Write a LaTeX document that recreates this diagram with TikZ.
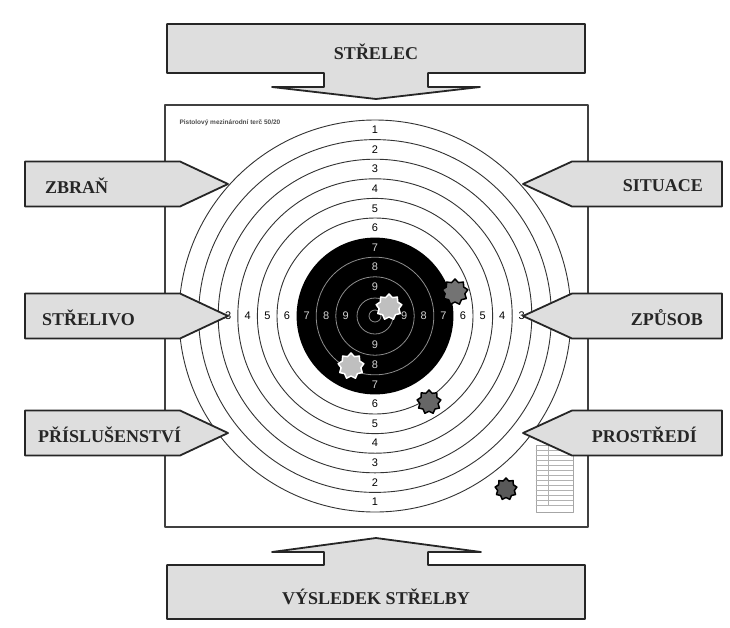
\documentclass[tikz,border=0pt]{standalone}
\usepackage{fontspec}
\setmainfont{Liberation Serif}
\setsansfont{Liberation Sans}
\usetikzlibrary{shapes.geometric}

\begin{document}
\begin{tikzpicture}[line cap=round,line join=round,x=1pt,y=-1pt,
  tab/.style={draw=black!85,fill=black!13,line width=1.8pt},
  lbl/.style={font=\fontsize{18}{20}\selectfont\bfseries,text=black!85,inner sep=0pt},
  num/.style={font=\sffamily\fontsize{11}{12}\selectfont,inner sep=0pt},
  hole/.style={star,star points=9,star point ratio=1.3,minimum size=26pt,inner sep=0pt,line width=1.5pt}]
\useasboundingbox[fill=white] (0,0) rectangle (730,627);
% target sheet
\draw[black!75,line width=1.5pt] (165,105) rectangle (588,527);
\node[anchor=west,font=\sffamily\bfseries\fontsize{6.5}{7}\selectfont,text=black!70] (title) at (176,123) {Pistolový mezinárodní terč 50/20};
\coordinate (c) at (375,316);
\foreach \r in {196,176.4,156.8,137.2,117.6,98}
\draw[black!80,line width=0.9pt] (c) circle (\r);
\fill[black] (c) circle (78.4);
\foreach \r in {58.8,39.2,18,6}
\draw[black!45,line width=0.8pt] (c) circle (\r);
% ring numbers
\foreach \n/\d in {1/186,2/166.4,3/146.8,4/127.2,5/107.6,6/88} {
\node[num] (t\n) at (375,{316-\d}) {\n};
\node[num] (b\n) at (375,{316+\d}) {\n};
}
\foreach \n/\d in {3/146.8,4/127.2,5/107.6,6/88} {
\node[num] (l\n) at ({375-\d},316) {\n};
\node[num] (r\n) at ({375+\d},316) {\n};
}
\foreach \n/\d in {7/68.4,8/48.8,9/29.2} {
\node[num,text=black!18] (t\n) at (375,{316-\d}) {\n};
\node[num,text=black!18] (b\n) at (375,{316+\d}) {\n};
\node[num,text=black!18] (l\n) at ({375-\d},316) {\n};
\node[num,text=black!18] (r\n) at ({375+\d},316) {\n};
}
% hits
\node[hole,draw=black,fill=black!55] (hit1) at (455,292) {};
\node[hole,draw=white,fill=black!25] (hit2) at (389,307) {};
\node[hole,draw=white,fill=black!25] (hit3) at (351,366) {};
\node[hole,draw=black,fill=black!60,minimum size=24pt] (hit4) at (429,402) {};
\node[hole,draw=black,fill=black!65,minimum size=22pt] (hit5) at (506,489) {};
% score table
\draw[black!35,line width=0.5pt] (536,445) rectangle (573,512);
\foreach \y in {450,455,...,505}
\draw[black!30,line width=0.4pt] (536,\y) -- (573,\y);
\draw[black!30,line width=0.4pt] (548,445) -- (548,505);
% top and bottom
\draw[tab] (167,24) -- (585,24) -- (585,73) -- (428,73) -- (428,87) -- (480,87) -- (376,99)
  -- (272,87) -- (324,87) -- (324,73) -- (167,73) -- cycle;
\node[lbl] (shooter) at (376,52) {STŘELEC};
\draw[tab] (167,619) -- (585,619) -- (585,565) -- (428,565) -- (428,552) -- (481,552) -- (376,538)
  -- (272,552) -- (324,552) -- (324,565) -- (167,565) -- cycle;
\node[lbl] (result) at (376,597) {VÝSLEDEK STŘELBY};
% side tabs
\foreach \y/\x/\name/\txt in {184/45/weapon/ZBRAŇ,316/42/ammo/STŘELIVO,433/38/gear/PŘÍSLUŠENSTVÍ} {
\draw[tab] (25,{\y-22.5}) -- (180,{\y-22.5}) -- (228,\y) -- (180,{\y+22.5}) -- (25,{\y+22.5}) -- cycle;
\node[lbl,anchor=west] (\name) at (\x,{\y+1.5}) {\txt};
}
\foreach \y/\x/\name/\txt in {184/703/situation/SITUACE,316/703/manner/ZPŮSOB,433/697/env/PROSTŘEDÍ} {
\draw[tab] (722,{\y-22.5}) -- (572,{\y-22.5}) -- (523,\y) -- (572,{\y+22.5}) -- (722,{\y+22.5}) -- cycle;
\node[lbl,anchor=east] (\name) at (\x,{\y+1.5}) {\txt};
}
\end{tikzpicture}
\end{document}
